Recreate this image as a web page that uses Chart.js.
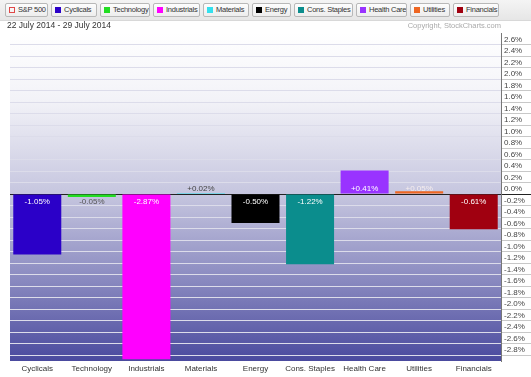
<!DOCTYPE html>
<html>
<head>
<meta charset="utf-8">
<script src="https://cdn.jsdelivr.net/npm/chart.js@4"></script>
<style>
  body { margin: 0; background: #fff; font-family: "Liberation Sans", Arial, sans-serif; }
  #wrap { position: relative; width: 531px; height: 377px; overflow: hidden; }
  #topbar { position: absolute; left: 0; top: 0; width: 531px; height: 20px;
    background: linear-gradient(#f4f4f4, #e6e6e6); border-bottom: 1px solid #d8d8d8; }
  #legend { position: absolute; left: 5px; top: 3px; display: flex; gap: 3px; }
  .item { height: 14px; line-height: 14px; border: 1px solid #b8b8b8; border-radius: 2px;
    background: linear-gradient(#fdfdfd, #ededed); font-size: 7.5px; letter-spacing: -0.25px; color: #333; box-sizing: border-box;
    padding: 0 0 0 3px; display: flex; align-items: center; white-space: nowrap; overflow: hidden; }
  .item:nth-child(1) { width: 43px; }
  .item:nth-child(2) { width: 46px; }
  .item:nth-child(3) { width: 50px; }
  .item:nth-child(4) { width: 47px; }
  .item:nth-child(5) { width: 46px; }
  .item:nth-child(6) { width: 39px; }
  .item:nth-child(7) { width: 59px; }
  .item:nth-child(8) { width: 51px; }
  .item:nth-child(9) { width: 40px; }
  .item:nth-child(10) { width: 46px; }
  .sw { width: 6px; height: 6px; margin-right: 3px; box-sizing: border-box; flex: none; }
  #date { position: absolute; left: 7px; top: 20px; font-size: 8.5px; color: #333; }
  #copy { position: absolute; right: 30px; top: 21px; font-size: 7.5px; color: #aaa; }
  canvas { position: absolute; left: 0; top: 0; }
</style>
</head>
<body>
<div id="wrap">
  <canvas id="chart" width="531" height="377"></canvas>
  <div id="topbar"><div id="legend"></div></div>
  <div id="date">22 July 2014 - 29 July 2014</div>
  <div id="copy">Copyright, StockCharts.com</div>
</div>
<script>
// sectors and their weekly change (%)
const sectors = ['Cyclicals', 'Technology', 'Industrials', 'Materials', 'Energy', 'Cons. Staples', 'Health Care', 'Utilities', 'Financials'];
const changes = [-1.05, -0.05, -2.87, 0.02, -0.50, -1.22, 0.41, 0.05, -0.61];
const yTicks = [2.6, 2.4, 2.2, 2.0, 1.8, 1.6, 1.4, 1.2, 1.0, 0.8, 0.6, 0.4, 0.2, 0.0,
  -0.2, -0.4, -0.6, -0.8, -1.0, -1.2, -1.4, -1.6, -1.8, -2.0, -2.2, -2.4, -2.6, -2.8];

const barColors = ['#2b00c8', '#22dd22', '#ff00ff', '#33e0ee', '#000000', '#0b8d8d', '#9933ff', '#ee6622', '#a00010'];
const textColors = ['#fff', '#555', '#fff', '#444', '#fff', '#fff', '#fff', '#f6eeee', '#fff'];
const font = '"Liberation Sans", Arial, sans-serif';

// legend row
const legend = document.getElementById('legend');
const addItem = (name, color, hollow) => {
  const el = document.createElement('div');
  el.className = 'item';
  const sw = document.createElement('span');
  sw.className = 'sw';
  if (hollow) sw.style.border = '1px solid ' + color;
  else sw.style.background = color;
  el.appendChild(sw);
  el.appendChild(document.createTextNode(name));
  legend.appendChild(el);
};
addItem('S&P 500', '#e04848', true);
sectors.forEach((s, i) => addItem(s, barColors[i], false));

const fmt = v => (v > 0 ? '+' : '') + v.toFixed(2) + '%';

const bgPlugin = {
  id: 'plotBg',
  beforeDraw(chart) {
    const { ctx, chartArea: a } = chart;
    const g = ctx.createLinearGradient(0, a.top, 0, a.bottom);
    g.addColorStop(0, '#ffffff');
    g.addColorStop(0.2, '#f3f3f8');
    g.addColorStop(0.5, '#c4c4de');
    g.addColorStop(0.75, '#8a8ac0');
    g.addColorStop(1, '#4a4a9e');
    ctx.save();
    ctx.fillStyle = g;
    ctx.fillRect(a.left, a.top, a.right - a.left, a.bottom - a.top);
    ctx.restore();
  }
};

const labelPlugin = {
  id: 'barLabels',
  afterDatasetsDraw(chart) {
    const { ctx } = chart;
    const zero = chart.scales.y.getPixelForValue(0);
    const meta = chart.getDatasetMeta(0);
    ctx.save();
    ctx.font = '8px ' + font;
    ctx.textAlign = 'center';
    ctx.textBaseline = 'middle';
    meta.data.forEach((bar, i) => {
      const v = changes[i];
      ctx.fillStyle = textColors[i];
      ctx.fillText(fmt(v), bar.x, v >= 0 ? zero - 5 : zero + 8);
    });
    ctx.restore();
  }
};

new Chart(document.getElementById('chart'), {
  type: 'bar',
  data: {
    labels: sectors,
    datasets: [{
      data: changes,
      backgroundColor: barColors,
      borderWidth: 0,
      barPercentage: 0.88,
      categoryPercentage: 1
    }]
  },
  options: {
    responsive: false,
    animation: false,
    layout: { padding: { top: 33, left: 10, right: 0, bottom: 0 } },
    plugins: { legend: { display: false }, tooltip: { enabled: false } },
    scales: {
      x: {
        grid: { display: false, drawTicks: false },
        border: { display: false },
        ticks: { color: '#333', font: { size: 8, family: font }, padding: 3, maxRotation: 0, autoSkip: false },
        afterFit: s => { s.height = 16; }
      },
      y: {
        position: 'right',
        min: -2.9,
        max: 2.8,
        afterBuildTicks: s => { s.ticks = yTicks.map(v => ({ value: v })); },
        grid: {
          color: c => c.tick && c.tick.value === 0 ? '#222' : '#dcdcea',
          tickColor: c => c.tick && c.tick.value === 0 ? '#222' : '#c8c8c8',
          lineWidth: 1,
          tickLength: 30
        },
        border: { color: '#777' },
        ticks: {
          color: '#444',
          font: { size: 8, family: font },
          padding: -27,
          labelOffset: -5,
          autoSkip: false,
          callback: v => v.toFixed(1) + '%'
        },
        afterFit: s => { s.width = 30; }
      }
    }
  },
  plugins: [bgPlugin, labelPlugin]
});
</script>
</body>
</html>
